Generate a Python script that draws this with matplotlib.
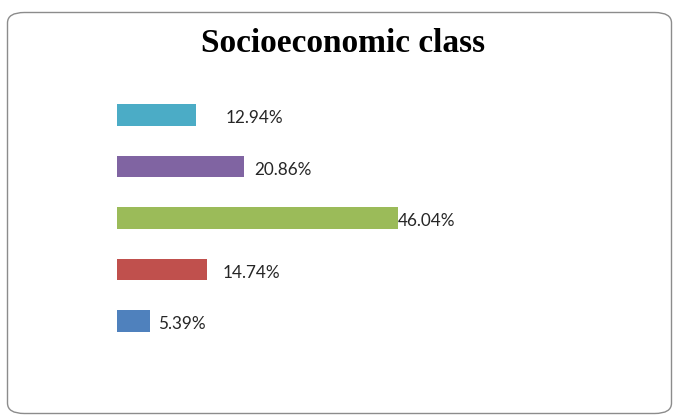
import matplotlib.pyplot as plt
from matplotlib.patches import FancyBboxPatch

# values (%) from bottom bar to top bar
values = [5.39, 14.74, 46.04, 20.86, 12.94]
labels = ["5.39%", "14.74%", "46.04%", "20.86%", "12.94%"]
colors = ["#4F81BD", "#C0504D", "#9BBB59", "#8064A2", "#4BACC6"]

W, H = 675, 415
fig = plt.figure(figsize=(W / 100, H / 100), dpi=100)

# rounded chart border
border = FancyBboxPatch((7.5 / W, 1.5 / H), 664 / W, 401 / H,
                        boxstyle="round,pad=0,rounding_size=0.025",
                        transform=fig.transFigure, facecolor="white",
                        edgecolor="#8c8c8c", linewidth=1.0, zorder=-5)
fig.patches.append(border)

fig.text(343 / W, 1 - 44 / H, "Socioeconomic class", ha="center", va="center",
         fontsize=24, fontweight="bold", family="Liberation Serif")

# axes: x from 117px, 6.1 px per percent; bars spaced 51.5 px
px_per = 6.1
ax_w = 500
top, bot = 89.25, 346.75
ax = fig.add_axes([117 / W, 1 - bot / H, ax_w / W, (bot - top) / H])
ax.set_xlim(0, ax_w / px_per)
ax.set_ylim(-0.5, len(values) - 0.5)
ax.axis("off")

pos = range(len(values))
ax.barh(pos, values, height=0.41, color=colors)

# label gaps (px) after each bar end, as placed in the original
gaps = [8, 16, 0, 10, 30]
for i, (v, lab) in enumerate(zip(values, labels)):
    ax.annotate(lab, (v, i), xytext=(gaps[i] * 0.72, -2.5), textcoords="offset points",
                ha="left", va="center", fontsize=12.3, family="Lato", color="#262626")

fig.savefig("out.png", dpi=100)
